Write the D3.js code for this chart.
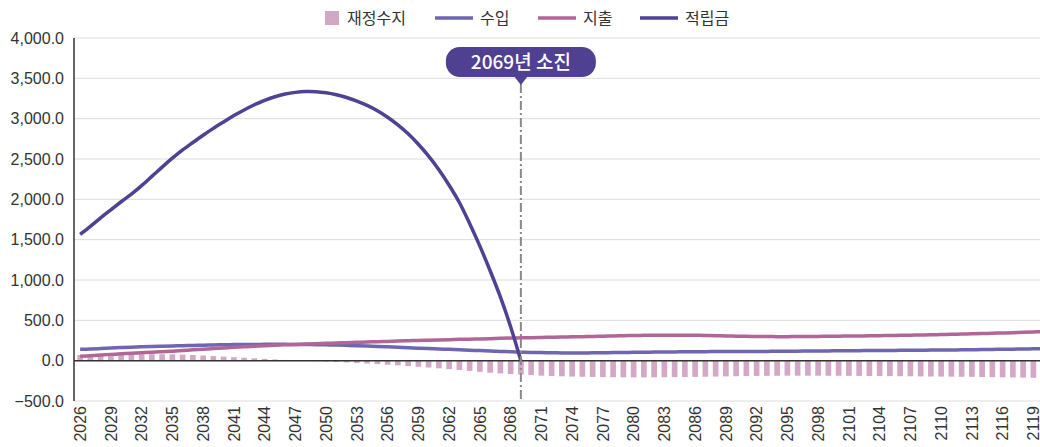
<!DOCTYPE html>
<html>
<head>
<meta charset="utf-8">
<script src="https://cdn.jsdelivr.net/npm/d3@7"></script>
<style>
	body { margin: 0; background: #fff; }
	svg { display: block; font-family: "Liberation Sans", Arial, sans-serif; }
	.kr { font-family: "Noto Sans CJK KR", "Noto Sans", sans-serif; }
</style>
</head>
<body>
<svg class="chart"></svg>
<script>
const years = d3.range(2026, 2121)

// 수입
const revenue = [
	140, 145, 150, 156, 162, 167, 172, 176, 180, 183,
	186, 189, 192, 195, 197, 199, 200, 201, 202, 202,
	202, 201, 200, 198, 196, 193, 190, 186, 182, 177,
	172, 166, 161, 155, 150, 145, 140, 135, 130, 125,
	120, 115, 110, 105, 102, 100, 98, 96, 95, 96,
	97, 98, 100, 101, 103, 104, 106, 107, 108, 110,
	111, 112, 113, 113, 114, 114, 115, 115, 116, 117,
	118, 119, 120, 121, 122, 123, 124, 125, 126, 127,
	128, 129, 130, 131, 132, 133, 134, 135, 137, 139,
	141, 143, 145, 147, 149
]

// 지출
const expense = [
	55, 62, 70, 78, 85, 92, 99, 105, 111, 118,
	126, 134, 142, 150, 158, 165, 172, 178, 184, 190,
	196, 201, 206, 211, 215, 219, 223, 227, 231, 235,
	239, 243, 247, 250, 254, 257, 260, 264, 267, 270,
	273, 277, 280, 283, 285, 288, 290, 293, 295, 298,
	301, 304, 307, 310, 312, 314, 315, 316, 316, 316,
	315, 313, 310, 307, 304, 302, 300, 299, 298, 298,
	299, 300, 301, 302, 304, 305, 306, 308, 310, 312,
	314, 316, 318, 321, 324, 327, 330, 333, 336, 340,
	343, 347, 351, 355, 360
]

// 재정수지
const balance = [
	70, 72, 74, 76, 78, 79, 80, 80, 80, 79,
	75, 70, 64, 57, 50, 43, 36, 29, 22, 15,
	9, 3, -2, -6, -10, -15, -21, -28, -35, -42,
	-50, -58, -67, -76, -85, -95, -105, -115, -127, -139,
	-150, -158, -165, -172, -180, -186, -190, -194, -197, -200,
	-202, -204, -205, -206, -207, -207, -207, -206, -205, -203,
	-201, -199, -197, -195, -193, -191, -189, -188, -187, -186,
	-186, -186, -186, -187, -187, -188, -189, -190, -191, -192,
	-193, -194, -195, -196, -197, -198, -200, -201, -203, -204,
	-206, -208, -210, -212, -214
]

// 적립금 (2026~2069)
const fund = [
	1565, 1665, 1770, 1870, 1970, 2065, 2170, 2285, 2400, 2510,
	2612, 2705, 2795, 2880, 2960, 3038, 3108, 3172, 3228, 3272,
	3305, 3326, 3336, 3334, 3320, 3296, 3262, 3218, 3164, 3098,
	3018, 2923, 2812, 2683, 2535, 2366, 2175, 1961, 1700, 1420,
	1115, 790, 420, 0
]

const yTicks = d3.range(-500, 4001, 500)
const legendItems = [
	{ name: "재정수지", type: "bar", color: "#d3a8c6" },
	{ name: "수입", type: "line", color: "#6f66b1" },
	{ name: "지출", type: "line", color: "#b06797" },
	{ name: "적립금", type: "line", color: "#4f4295" }
]
const depletionYear = 2069
const depletionLabel = "2069년 소진"

const	width = 1040,
			height = 447,
			margin = { top: 38, left: 75, bottom: 401 }

var chart = d3.select(".chart")
		.attr("width", width)
		.attr("height", height)

var x = d3.scaleBand()
		.domain(years)
		.range([margin.left, margin.left + years.length * 10.25])
		.paddingInner(0.45)
		.paddingOuter(0.225)

var cx = (yr) => x(yr) + x.bandwidth() / 2

var y = d3.scaleLinear()
		.domain([-500, 4000])
		.range([margin.bottom, margin.top])

// grid
chart.append("g")
		.selectAll("line")
		.data(yTicks)
		.enter()
		.append("line")
			.attr("x1", margin.left - 1)
			.attr("x2", width)
			.attr("y1", (d) => y(d))
			.attr("y2", (d) => y(d))
			.attr("stroke", "#dcdcdc")
			.attr("stroke-width", 1)

// y labels
chart.append("g")
		.selectAll("text")
		.data(yTicks)
		.enter()
		.append("text")
			.attr("x", 64)
			.attr("y", (d) => y(d))
			.attr("dy", "0.36em")
			.attr("text-anchor", "end")
			.attr("fill", "#333")
			.style("font-size", "16px")
			.text(d3.format(",.1f"))

// x labels
chart.append("g")
		.selectAll("text")
		.data(years.filter((d, i) => i % 3 === 0))
		.enter()
		.append("text")
			.attr("transform", (d) => "translate(" + cx(d) + "," + 406 + ") rotate(-90)")
			.attr("dy", "0.36em")
			.attr("text-anchor", "end")
			.attr("fill", "#333")
			.style("font-size", "16px")
			.text((d) => d)

// balance bars
chart.append("g")
		.selectAll("rect")
		.data(years)
		.enter()
		.append("rect")
			.attr("x", (d) => x(d))
			.attr("width", x.bandwidth())
			.attr("y", (d, i) => y(Math.max(0, balance[i])))
			.attr("height", (d, i) => Math.abs(y(balance[i]) - y(0)))
			.attr("fill", legendItems[0].color)

// axes lines
chart.append("line")
		.attr("x1", margin.left - 1)
		.attr("x2", width)
		.attr("y1", y(0))
		.attr("y2", y(0))
		.attr("stroke", "#333")
		.attr("stroke-width", 1.5)

chart.append("line")
		.attr("x1", margin.left - 1)
		.attr("x2", margin.left - 1)
		.attr("y1", margin.top)
		.attr("y2", margin.bottom)
		.attr("stroke", "#333")
		.attr("stroke-width", 1.5)

var line = (vals) => d3.line()
		.x((d, i) => cx(years[i]))
		.y((d) => y(d))
		.curve(d3.curveCatmullRom.alpha(0.5))(vals)

var series = [
	{ vals: revenue, color: legendItems[1].color },
	{ vals: expense, color: legendItems[2].color },
	{ vals: fund, color: legendItems[3].color }
]

chart.append("g")
		.selectAll("path")
		.data(series)
		.enter()
		.append("path")
			.attr("d", (d) => line(d.vals))
			.attr("fill", "none")
			.attr("stroke", (d) => d.color)
			.attr("stroke-width", 3.5)
			.attr("stroke-linejoin", "round")

// depletion marker
var dx = cx(depletionYear)

chart.append("line")
		.attr("x1", dx)
		.attr("x2", dx)
		.attr("y1", 84)
		.attr("y2", margin.bottom)
		.attr("stroke", "#8a8a8a")
		.attr("stroke-width", 2)
		.attr("stroke-dasharray", "9,3,2,3")

var callout = chart.append("g")
		.attr("class", "kr")

callout.append("rect")
		.attr("x", dx - 75)
		.attr("y", 47)
		.attr("width", 150)
		.attr("height", 30)
		.attr("rx", 14)
		.attr("fill", "#4f4092")

callout.append("path")
		.attr("d", "M" + (dx - 7) + ",76 L" + (dx + 7) + ",76 L" + dx + ",85 Z")
		.attr("fill", "#4f4092")

callout.append("text")
		.attr("x", dx)
		.attr("y", 62)
		.attr("dy", "0.36em")
		.attr("text-anchor", "middle")
		.attr("fill", "#fff")
		.style("font-size", "19px")
		.style("font-weight", "500")
		.text(depletionLabel)

// legend
var legendX = [325, 435, 538, 640]

var legend = chart.append("g")
		.attr("class", "kr")
	.selectAll("g")
		.data(legendItems)
		.enter()
	.append("g")
		.attr("transform", (d, i) => "translate(" + legendX[i] + ",18)")

legend.filter((d) => d.type === "bar")
	.append("rect")
		.attr("x", 0)
		.attr("y", -7)
		.attr("width", 14)
		.attr("height", 14)
		.attr("fill", (d) => d.color)

legend.filter((d) => d.type === "line")
	.append("line")
		.attr("x1", 0)
		.attr("x2", 38)
		.attr("stroke", (d) => d.color)
		.attr("stroke-width", 3.5)

legend.append("text")
		.attr("x", (d) => d.type === "bar" ? 22 : 45)
		.attr("dy", "0.35em")
		.attr("fill", "#333")
		.style("font-size", "16px")
		.text((d) => d.name)
</script>
</body>
</html>
